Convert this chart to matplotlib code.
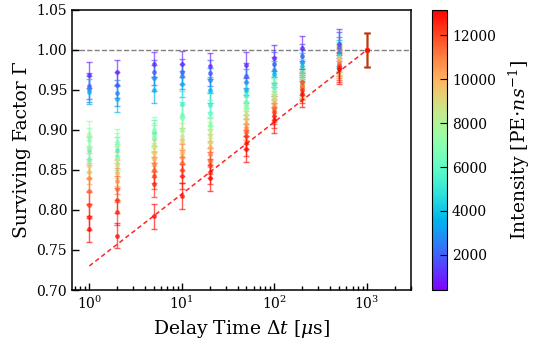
import numpy as np
import matplotlib
matplotlib.use("Agg")
import matplotlib.pyplot as plt
from matplotlib.colors import Normalize
from matplotlib.cm import ScalarMappable

plt.rcParams['font.family'] = ['DejaVu Serif']
plt.rcParams['mathtext.fontset'] = 'dejavuserif'

# Delay times [us]
delays = [1, 2, 5, 10, 20, 50, 100, 200, 500, 1000]
# Error per delay
errors = [0.016, 0.016, 0.016, 0.016, 0.016, 0.016, 0.016, 0.016, 0.018, 0.021]
# Intensities [PE/ns]
intensities = [900, 1800, 2600, 3600, 5200, 6000, 6800, 7600, 8400, 9200,
               10000, 10800, 11500, 12200, 12600, 13000]

# Surviving factor per intensity (rows) across delays (columns)
g_900   = [0.969, 0.972, 0.982, 0.9825, 0.980, 0.981, 0.990, 1.002, 1.008, 1.0]
g_1800  = [0.955, 0.956, 0.972, 0.973, 0.971, 0.968, 0.982, 0.992, 1.004, 1.0]
g_2600  = [0.951, 0.946, 0.965, 0.967, 0.962, 0.960, 0.975, 0.985, 0.998, 1.0]
g_3600  = [0.948, 0.939, 0.950, 0.9575, 0.950, 0.950, 0.970, 0.980, 0.995, 1.0]
g_5200  = [0.875, 0.875, 0.896, 0.9325, 0.931, 0.944, 0.958, 0.973, 0.992, 1.0]
g_6000  = [0.864, 0.866, 0.890, 0.919, 0.921, 0.935, 0.952, 0.968, 0.990, 1.0]
g_6800  = [0.887, 0.885, 0.900, 0.915, 0.906, 0.931, 0.948, 0.962, 0.990, 1.0]
g_7600  = [0.895, 0.880, 0.893, 0.900, 0.900, 0.925, 0.944, 0.958, 0.988, 1.0]
g_8400  = [0.877, 0.864, 0.881, 0.893, 0.894, 0.920, 0.940, 0.957, 0.987, 1.0]
g_9200  = [0.855, 0.856, 0.871, 0.886, 0.885, 0.914, 0.9375, 0.956, 0.986, 1.0]
g_10000 = [0.848, 0.846, 0.864, 0.873, 0.879, 0.908, 0.933, 0.955, 0.990, 1.0]
g_10800 = [0.840, 0.836, 0.857, 0.866, 0.870, 0.903, 0.929, 0.953, 0.985, 1.0]
g_11500 = [0.824, 0.826, 0.850, 0.859, 0.861, 0.898, 0.926, 0.955, 0.983, 1.0]
g_12200 = [0.806, 0.812, 0.8425, 0.850, 0.856, 0.892, 0.923, 0.960, 0.980, 1.0]
g_12600 = [0.791, 0.797, 0.8325, 0.842, 0.848, 0.884, 0.918, 0.950, 0.978, 1.0]
g_13000 = [0.776, 0.768, 0.792, 0.8175, 0.840, 0.876, 0.9125, 0.945, 0.976, 1.0]

gammas = [g_900, g_1800, g_2600, g_3600, g_5200, g_6000, g_6800, g_7600,
          g_8400, g_9200, g_10000, g_10800, g_11500, g_12200, g_12600, g_13000]

# Envelope fit line
fit_x = [1, 1000]
fit_y = [0.73, 1.0]

fig = plt.figure(figsize=(5.36, 3.46), dpi=100)
ax = fig.add_axes([72/536, 1-290/346, (411-72)/536, 280/346])
cax = fig.add_axes([432/536, 1-290/346, 15/536, 280/346])

cmap = plt.get_cmap('rainbow')
norm = Normalize(vmin=400, vmax=13150)

ax.axhline(1.0, color='gray', ls='--', lw=1.0, zorder=1)

for inten, g in zip(intensities, gammas):
    c = cmap(norm(inten))
    ax.errorbar(delays, g, yerr=errors, fmt='o', ms=2.5, color=c,
                ecolor=c, elinewidth=1.0, capsize=2, capthick=1.0,
                alpha=0.65, zorder=2)

ax.plot(fit_x, fit_y, color='red', ls=(0, (3, 2)), lw=1.1, alpha=0.85, zorder=3)

ax.set_xscale('log')
ax.set_xlim(0.65, 3000)
ax.set_ylim(0.70, 1.05)
ax.set_yticks(np.arange(0.70, 1.051, 0.05))
ax.set_yticklabels([f"{v:.2f}" for v in np.arange(0.70, 1.051, 0.05)])
ax.tick_params(axis='both', which='both', direction='in', labelsize=10,
               top=False, right=False)
ax.tick_params(axis='both', which='major', length=5, width=1)
ax.tick_params(axis='x', which='minor', length=3, width=1)
ax.set_xlabel(r"Delay Time $\Delta t$ [$\mu$s]", fontsize=13.5)
ax.set_ylabel("Surviving Factor Γ", fontsize=13.5)
for s in ax.spines.values():
    s.set_linewidth(1.1)

sm = ScalarMappable(norm=norm, cmap=cmap)
cb = fig.colorbar(sm, cax=cax)
cb.set_ticks([2000, 4000, 6000, 8000, 10000, 12000])
cb.ax.tick_params(direction='in', length=5, labelsize=10)
cb.set_label(r"Intensity [PE$\cdot$$ns^{-1}$]", fontsize=13.5, labelpad=8)

fig.savefig("out.png", dpi=100)
